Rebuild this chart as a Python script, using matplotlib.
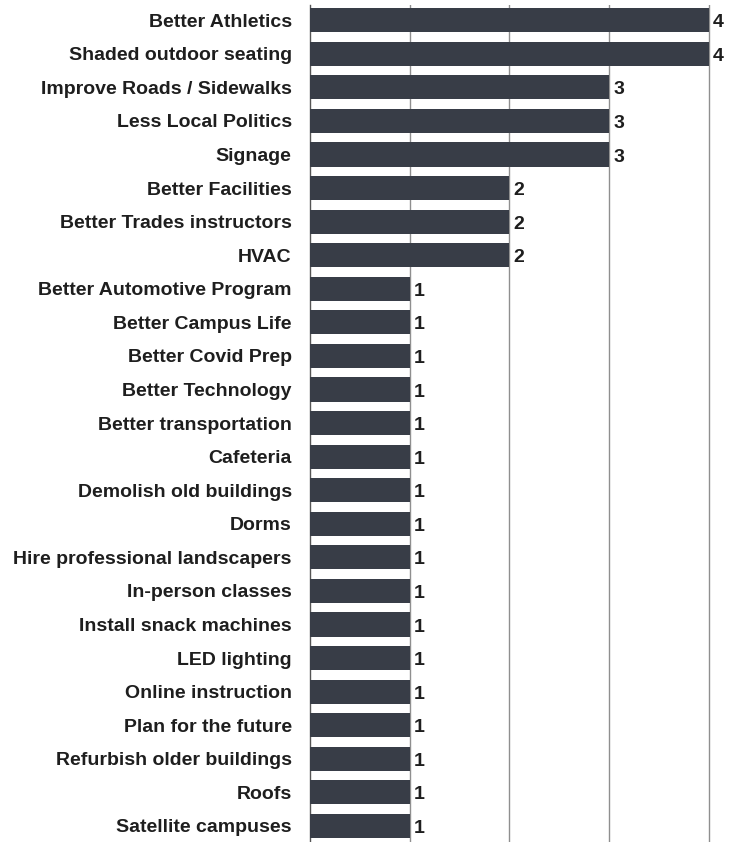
import matplotlib.pyplot as plt

categories = [
    "Better Athletics", "Shaded outdoor seating", "Improve Roads / Sidewalks",
    "Less Local Politics", "Signage", "Better Facilities",
    "Better Trades instructors", "HVAC", "Better Automotive Program",
    "Better Campus Life", "Better Covid Prep", "Better Technology",
    "Better transportation", "Cafeteria", "Demolish old buildings", "Dorms",
    "Hire professional landscapers", "In-person classes",
    "Install snack machines", "LED lighting", "Online instruction",
    "Plan for the future", "Refurbish older buildings", "Roofs",
    "Satellite campuses",
]
counts = [4, 4, 3, 3, 3, 2, 2, 2, 1, 1, 1, 1, 1, 1, 1, 1, 1, 1, 1, 1, 1, 1, 1, 1, 1]
xticks = [1, 2, 3, 4]

plt.rcParams['font.family'] = ['Liberation Sans', 'DejaVu Sans']

fig = plt.figure(figsize=(7.34, 8.42), dpi=100)
ax = fig.add_axes([0.422, 0.0, 0.547, 0.994])

pos = range(len(categories))
ax.barh(pos, counts, height=0.72, color='#383d47', zorder=3)
for y, v in zip(pos, counts):
    ax.text(v + 0.04, y + 0.08, str(v), va='center', ha='left',
            fontsize=14, fontweight='bold', color='#1e1e1e', clip_on=False)

ax.set_xlim(0, 4.02)
ax.set_ylim(len(categories) - 0.52, -0.45)
ax.set_xticks(xticks)
ax.set_xticklabels([])
ax.tick_params(axis='x', length=0)
ax.grid(axis='x', color='#8f8f8f', linewidth=1.0, zorder=0)

ax.set_yticks(list(pos))
ax.set_yticklabels(categories, fontsize=14, fontweight='bold', color='#1e1e1e')
ax.tick_params(axis='y', length=0, pad=13)

for side in ['top', 'right', 'bottom']:
    ax.spines[side].set_visible(False)
ax.spines['left'].set_color('#555555')
ax.spines['left'].set_linewidth(1.0)

fig.savefig('out.png', dpi=100)
